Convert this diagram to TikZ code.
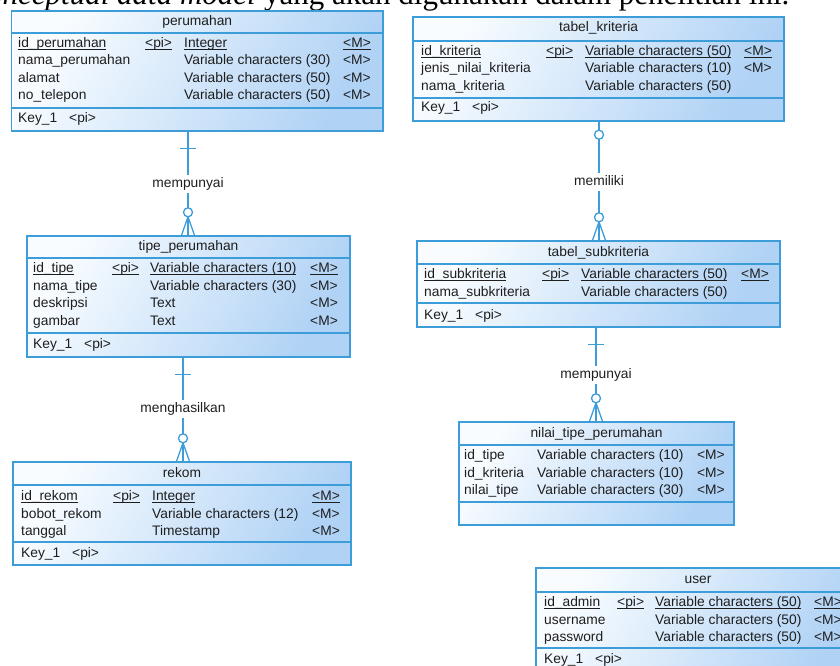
\documentclass[tikz,border=0pt]{standalone}
\usepackage{fontspec}
\setmainfont{Liberation Sans}
\newfontfamily\bodyserif{Liberation Serif}
\usetikzlibrary{calc}

\definecolor{erline}{RGB}{60,157,216}
\definecolor{erlight}{RGB}{248,252,255}
\definecolor{erdark}{RGB}{176,210,245}
\definecolor{ertext}{RGB}{30,30,30}

\newcommand\erfont{\fontsize{13.8}{17.5}\selectfont}
% underlined primary-key cell
\newcommand\pk[1]{\leavevmode\setbox0\hbox{#1}\rlap{\rule[-2.4pt]{\wd0}{0.8pt}}\box0}

\tikzset{
  entity/.style={rectangle, draw=erline, line width=1.4pt, left color=erlight,
    right color=erdark, shading angle=60, inner sep=0pt},
  sepline/.style={draw=erline, line width=1.2pt},
  conn/.style={draw=erline, line width=1.3pt},
  cell/.style={anchor=west, inner sep=0pt, text height=10pt, text depth=3pt,
    font=\erfont, text=ertext},
  ttl/.style={cell, anchor=center},
  attrs/.style={anchor=base west, inner sep=0pt, font=\erfont, text=ertext},
  rel/.style={inner sep=0pt, text height=10pt, text depth=3pt, minimum height=18pt,
    font=\erfont, text=ertext},
}

% entity frame: name, left, top, right, bottom, title rule, key rule
\newcommand\erbox[7]{%
  \node[entity, minimum width={#4-#2}, minimum height={#5-#3}] (#1)
    at ({(#2+#4)/2},{(#3+#5)/2}) {};
  \draw[sepline] (#1.west |- 0,#6) -- (#1.east |- 0,#6);
  \draw[sepline] (#1.west |- 0,#7) -- (#1.east |- 0,#7);
}
% "exactly one" end at the parent: relation label, parent entity
\newcommand\onebar[2]{%
  \coordinate (#1-top) at (#2.south -| #1);
  \draw[conn] (#1-top) -- (#1.north);
  \draw[conn] ($(#1-top)+(-8,17)$) -- ($(#1-top)+(8,17)$);
}
% "zero or one" end at the parent
\newcommand\zeroone[2]{%
  \coordinate (#1-top) at (#2.south -| #1);
  \draw[conn] (#1-top) -- ($(#1-top)+(0,8.5)$);
  \draw[conn, fill=white] ($(#1-top)+(0,13)$) circle[radius=4.5];
  \draw[conn] ($(#1-top)+(0,17.5)$) -- (#1.north);
}
% "zero or many" end at the child: relation label, child entity
\newcommand\zeromany[2]{%
  \coordinate (#1-bot) at (#2.north -| #1);
  \draw[conn] (#1.south) -- ($(#1-bot)+(0,-27.5)$);
  \draw[conn, fill=white] ($(#1-bot)+(0,-23)$) circle[radius=4.5];
  \draw[conn] ($(#1-bot)+(0,-18.5)$) -- (#1-bot);
  \draw[conn] ($(#1-bot)+(0,-18.5)$) -- ($(#1-bot)+(-6.5,0)$);
  \draw[conn] ($(#1-bot)+(0,-18.5)$) -- ($(#1-bot)+(6.5,0)$);
}

\begin{document}
\begin{tikzpicture}[x=1pt, y=-1pt]
\useasboundingbox (0,0) rectangle (840,666);
\clip (0,0) rectangle (840,666);

% running text above the diagram
\node[anchor=base west, inner sep=0pt, font=\bodyserif\fontsize{31}{37}\selectfont]
  (introB) at (264,4.5) {yang akan digunakan dalam penelitian ini.};
\node[anchor=base east, inner sep=0pt, font=\bodyserif\itshape\fontsize{31}{37}\selectfont]
  (introA) at ([xshift=-8pt]introB.base west) {conceptual data model};

% ---------- perumahan ----------
\erbox{perumahan}{11.5}{11}{383}{131}{33}{108}
\node[ttl] (perumahan-t) at (perumahan.north |- 0,22.5) {perumahan};
\node[attrs] (perumahan-a) at (18,47.5) {%
  \begin{tabular}[t]{@{}p{127pt}@{}p{39pt}@{}p{159pt}@{}l@{}}
  \pk{id\_perumahan} & \pk{<pi>} & \pk{Integer} & \pk{<M>}\\
  nama\_perumahan & & Variable characters (30) & <M>\\
  alamat & & Variable characters (50) & <M>\\
  no\_telepon & & Variable characters (50) & <M>
  \end{tabular}};
\node[cell] (perumahan-k) at (18,118.5) {\makebox[51pt][l]{Key\_1}<pi>};

% ---------- tabel_kriteria ----------
\erbox{kriteria}{413}{17}{784}{121}{41}{98}
\node[ttl] (kriteria-t) at (kriteria.north |- 0,28.5) {tabel\_kriteria};
\node[attrs] (kriteria-a) at (421,55.5) {%
  \begin{tabular}[t]{@{}p{125pt}@{}p{39pt}@{}p{159pt}@{}l@{}}
  \pk{id\_kriteria} & \pk{<pi>} & \pk{Variable characters (50)} & \pk{<M>}\\
  jenis\_nilai\_kriteria & & Variable characters (10) & <M>\\
  nama\_kriteria & & Variable characters (50) &
  \end{tabular}};
\node[cell] (kriteria-k) at (421,108.5) {\makebox[51pt][l]{Key\_1}<pi>};

% ---------- tipe_perumahan ----------
\erbox{tipe}{27}{236}{350}{357}{258}{333}
\node[ttl] (tipe-t) at (tipe.north |- 0,247) {tipe\_perumahan};
\node[attrs] (tipe-a) at (33,272.5) {%
  \begin{tabular}[t]{@{}p{79pt}@{}p{38pt}@{}p{160pt}@{}l@{}}
  \pk{id\_tipe} & \pk{<pi>} & \pk{Variable characters (10)} & \pk{<M>}\\
  nama\_tipe & & Variable characters (30) & <M>\\
  deskripsi & & Text & <M>\\
  gambar & & Text & <M>
  \end{tabular}};
\node[cell] (tipe-k) at (33,344.5) {\makebox[51pt][l]{Key\_1}<pi>};

% ---------- rekom ----------
\erbox{rekom}{13}{462}{351}{565}{485}{542}
\node[ttl] (rekom-t) at (rekom.north |- 0,473.5) {rekom};
\node[attrs] (rekom-a) at (21,500.5) {%
  \begin{tabular}[t]{@{}p{92pt}@{}p{39pt}@{}p{160pt}@{}l@{}}
  \pk{id\_rekom} & \pk{<pi>} & \pk{Integer} & \pk{<M>}\\
  bobot\_rekom & & Variable characters (12) & <M>\\
  tanggal & & Timestamp & <M>
  \end{tabular}};
\node[cell] (rekom-k) at (21,553.5) {\makebox[51pt][l]{Key\_1}<pi>};

% ---------- tabel_subkriteria ----------
\erbox{subk}{417}{241}{780}{327}{264}{303}
\node[ttl] (subk-t) at (subk.north |- 0,252.5) {tabel\_subkriteria};
\node[attrs] (subk-a) at (424,278.5) {%
  \begin{tabular}[t]{@{}p{118pt}@{}p{39pt}@{}p{160pt}@{}l@{}}
  \pk{id\_subkriteria} & \pk{<pi>} & \pk{Variable characters (50)} & \pk{<M>}\\
  nama\_subkriteria & & Variable characters (50) &
  \end{tabular}};
\node[cell] (subk-k) at (424,315.5) {\makebox[51pt][l]{Key\_1}<pi>};

% ---------- nilai_tipe_perumahan ----------
\erbox{nilai}{459}{422}{734}{525}{445}{502}
\node[ttl] (nilai-t) at (nilai.north |- 0,433.5) {nilai\_tipe\_perumahan};
\node[attrs] (nilai-a) at (464,459.5) {%
  \begin{tabular}[t]{@{}p{73pt}@{}p{160pt}@{}l@{}}
  id\_tipe & Variable characters (10) & <M>\\
  id\_kriteria & Variable characters (10) & <M>\\
  nilai\_tipe & Variable characters (30) & <M>
  \end{tabular}};

% ---------- user ----------
\erbox{user}{536}{568}{860}{684}{592}{648}
\node[ttl] (user-t) at (user.north |- 0,580) {user};
\node[attrs] (user-a) at (544,606.5) {%
  \begin{tabular}[t]{@{}p{73pt}@{}p{38pt}@{}p{159pt}@{}l@{}}
  \pk{id\_admin} & \pk{<pi>} & \pk{Variable characters (50)} & \pk{<M>}\\
  username & & Variable characters (50) & <M>\\
  password & & Variable characters (50) & <M>
  \end{tabular}};
\node[cell] (user-k) at (544,659.5) {\makebox[51pt][l]{Key\_1}<pi>};

% ---------- relationships ----------
\node[rel] (r1) at (188,184) {mempunyai};
\onebar{r1}{perumahan}
\zeromany{r1}{tipe}

\node[rel] (r2) at (599,182) {memiliki};
\zeroone{r2}{kriteria}
\zeromany{r2}{subk}

\node[rel] (r3) at (183,409) {menghasilkan};
\onebar{r3}{tipe}
\zeromany{r3}{rekom}

\node[rel] (r4) at (596,375) {mempunyai};
\onebar{r4}{subk}
\zeromany{r4}{nilai}
\end{tikzpicture}
\end{document}
